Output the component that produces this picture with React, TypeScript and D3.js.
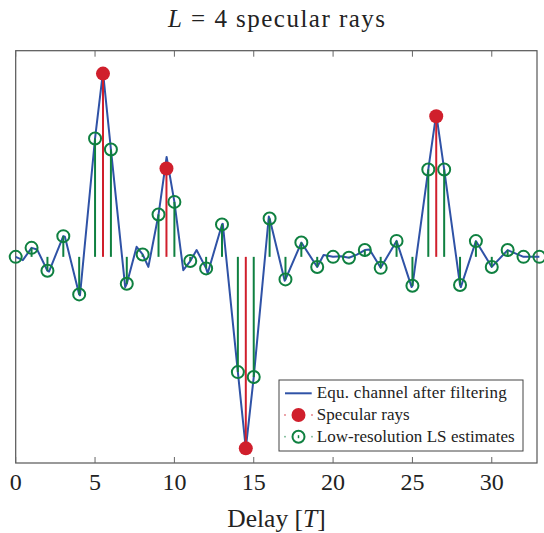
import React from "react";
import * as d3 from "d3";

const lsDelays = [0,1,2,3,4,5,6,7,8,9,10,11,12,13,14,15,16,17,18,19,20,21,22,23,24,25,26,27,28,29,30,31,32,33];
const lsValues = [0,0.049,-0.076,0.113,-0.205,0.646,0.586,-0.147,0.013,0.231,0.30,-0.023,-0.063,0.177,-0.629,-0.656,0.209,-0.123,0.078,-0.055,0,-0.005,0.037,-0.06,0.087,-0.158,0.477,0.477,-0.154,0.086,-0.055,0.037,0,0];

const rayDelays = [5.5, 9.5, 14.5, 26.5];
const rayValues = [1.0, 0.482, -1.045, 0.767];

const lineDelays = [0,0.45,1,1.35,2,2.1,3,3.1,4,4.05,5,5.5,6,6.9,7,7.62,8,8.36,9,9.51,10,10.56,11,11.4,12,12.1,13,13.05,14,14.5,15,15.95,16,16.95,17,18,19,19.4,20,20.5,21,21.5,22,22.3,23,24,24.95,25,26,26.5,27,28,28.05,29,30,31,32,33];
const lineValues = [0,-0.018,0.049,0.04,-0.076,-0.08,0.113,0.11,-0.205,-0.21,0.646,1.01,0.586,-0.165,-0.147,0.055,0.013,-0.055,0.231,0.545,0.30,-0.073,-0.023,0.037,-0.063,-0.09,0.177,0.18,-0.629,-1.045,-0.656,0.22,0.209,-0.13,-0.123,0.078,-0.055,0.01,0,0.003,-0.005,0.012,0.037,0.04,-0.06,0.087,-0.165,-0.158,0.477,0.78,0.477,-0.154,-0.165,0.086,-0.055,0.037,0,0];

const xTicks = [0, 5, 10, 15, 20, 25, 30];

const BLUE = "#2f52a6";
const RED = "#d01f2c";
const GREEN = "#0f8040";
const FONT = "'Liberation Serif', 'DejaVu Serif', serif";

export default function App() {
  const left = 15.7, right = 537, top = 50.7, bottom = 463;
  const x = d3.scaleLinear().domain([0, 32.85]).range([left, right]);
  const y = d3.scaleLinear().domain([-1.125, 1.125]).range([bottom, top]);
  const line = d3.line<number>().x((_, i) => x(lineDelays[i])).y((d) => y(d));
  const y0 = y(0);

  const lx = 279, ly = 380, lw = 244, lh = 71;
  const rows = [393.3, 415, 436.7];

  return (
    <svg width={544} height={533} style={{ position: "absolute", left: 0, top: 0, background: "#fff" }} fontFamily={FONT}>
      <text x={168} y={27} fontSize={25} fill="#222" textLength={217} lengthAdjust="spacing">
        <tspan fontStyle="italic">L</tspan>
        <tspan> = 4 specular rays</tspan>
      </text>

      {/* frame */}
      <rect x={left} y={top} width={right - left} height={bottom - top} fill="none" stroke="#555" strokeWidth={1.2} />
      {xTicks.map((t) => (
        <g key={t}>
          <line x1={x(t)} x2={x(t)} y1={bottom} y2={bottom - 6} stroke="#666" strokeWidth={1} />
          <line x1={x(t)} x2={x(t)} y1={top} y2={top + 6} stroke="#666" strokeWidth={1} />
          <text x={x(t)} y={490} textAnchor="middle" fontSize={24} fill="#222">{t}</text>
        </g>
      ))}
      <text x={276.5} y={527} textAnchor="middle" fontSize={25.5} fill="#222">
        <tspan>Delay [</tspan>
        <tspan fontStyle="italic">T</tspan>
        <tspan>]</tspan>
      </text>

      {/* blue line */}
      <path d={line(lineValues) || ""} fill="none" stroke={BLUE} strokeWidth={2} strokeLinejoin="round" />

      {/* red stems */}
      {rayDelays.map((d, i) => (
        <g key={"r" + i}>
          <line x1={x(d)} x2={x(d)} y1={y0} y2={y(rayValues[i])} stroke={RED} strokeWidth={2} />
          <circle cx={x(d)} cy={y(rayValues[i])} r={7} fill={RED} />
        </g>
      ))}

      {/* green stems */}
      {lsDelays.map((d, i) => (
        <g key={"g" + i}>
          <line x1={x(d)} x2={x(d)} y1={y0} y2={y(lsValues[i])} stroke={GREEN} strokeWidth={2} />
          <circle cx={x(d)} cy={y(lsValues[i])} r={6} fill="none" stroke={GREEN} strokeWidth={2} />
        </g>
      ))}

      {/* legend */}
      <rect x={lx} y={ly} width={lw} height={lh} fill="#fff" stroke="#444" strokeWidth={1} />
      <line x1={285} x2={311.7} y1={rows[0]} y2={rows[0]} stroke={BLUE} strokeWidth={2} />
      <text x={316.7} y={rows[0] + 5} fontSize={17} fill="#222" textLength={190} lengthAdjust="spacing">Equ. channel after filtering</text>

      <circle cx={285} cy={rows[1]} r={0.9} fill={RED} opacity={0.6} />
      <circle cx={312} cy={rows[1]} r={0.9} fill={RED} opacity={0.6} />
      <circle cx={298.5} cy={rows[1]} r={7} fill={RED} />
      <text x={316.7} y={rows[1] + 5} fontSize={17} fill="#222" textLength={93} lengthAdjust="spacing">Specular rays</text>

      <circle cx={285} cy={rows[2]} r={0.9} fill={GREEN} opacity={0.6} />
      <circle cx={312} cy={rows[2]} r={0.9} fill={GREEN} opacity={0.6} />
      <line x1={298.5} x2={298.5} y1={rows[2] - 1.5} y2={rows[2] + 1.5} stroke={GREEN} strokeWidth={1.5} />
      <circle cx={298.5} cy={rows[2]} r={6} fill="none" stroke={GREEN} strokeWidth={2} />
      <text x={316.7} y={rows[2] + 5} fontSize={17} fill="#222" textLength={198} lengthAdjust="spacing">Low-resolution LS estimates</text>
    </svg>
  );
}
